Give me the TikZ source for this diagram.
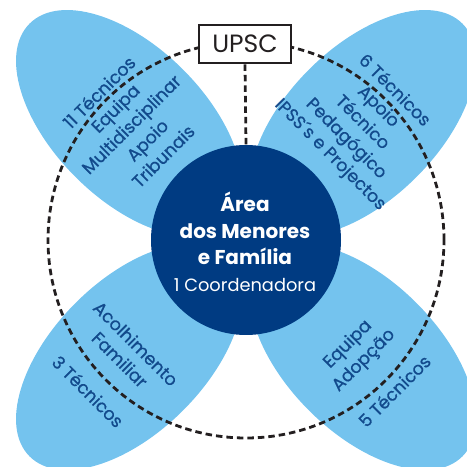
\documentclass[tikz,border=0pt]{standalone}
\usepackage{fontspec}
\setmainfont{Poppins}
\newfontfamily\petalfont{Poppins}[FakeBold=0.7]
\usetikzlibrary{shapes.geometric}
\definecolor{petal}{HTML}{74C3EE}
\definecolor{core}{HTML}{003B82}
\definecolor{petaltext}{HTML}{124A8C}
\definecolor{ink}{HTML}{231F20}
\tikzset{
  petalshape/.style={ellipse, fill=petal, inner sep=0pt, minimum width=282pt, minimum height=152pt},
  petallabel/.style={text=petaltext, align=center, font=\petalfont\fontsize{17.5}{22.6}\selectfont, inner sep=0pt},
  dashline/.style={draw=ink, line width=2.8pt, dash pattern=on 6.5pt off 4pt},
}
\begin{document}
\begin{tikzpicture}[x=1pt,y=1pt]
\useasboundingbox (0,0) rectangle (467,467);
\clip (0,0) rectangle (467,467);
\coordinate (m) at (246,227);
% petals
\node[petalshape, rotate=-45] (ul) at (129.3,343.7) {};
\node[petalshape, rotate=45] (ur) at (362.7,343.7) {};
\node[petalshape, rotate=45] (bl) at (129.3,110.3) {};
\node[petalshape, rotate=-45] (br) at (362.7,110.3) {};
% dashed ring
\node[circle, dashline, inner sep=0pt, minimum size=396pt] (ring) at (m) {};
% core circle
\node[circle, fill=core, inner sep=0pt, minimum size=190pt] (corec) at (m) {};
% UPSC box
\node[draw=ink, line width=2.6pt, fill=white, minimum width=92pt, minimum height=38pt, inner sep=0pt,
      font=\fontsize{25}{30}\selectfont, text=ink] (upsc) at (245,423) {UPSC};
\draw[dashline] (upsc.south) -- (corec.north);
% petal texts
\node[petallabel, rotate=45] (tul) at (131,343) {11 Técnicos\\Equipa\\Multidisciplinar\\Apoio\\Tribunais};
\node[petallabel, rotate=-45] (tur) at (362,344) {6 Técnicos\\Apoio\\Técnico\\Pedagógico\\IPSS´s e Projectos};
\node[petallabel, rotate=-45] (tbl) at (112,99.5) {Acolhimento\\Familiar\\\mbox{}\\3 Técnicos};
\node[petallabel, rotate=45] (tbr) at (370.5,100) {Equipa\\Adopção\\\mbox{}\\5 Técnicos};
% core text
\node[text=white, align=center, inner sep=0pt, font=\fontsize{20}{26.5}\selectfont\bfseries] (tcore) at (245,225)
  {Área\\dos Menores\\e Família\\
   {\fontsize{17.8}{26.5}\selectfont\mdseries 1 Coordenadora}};
\end{tikzpicture}
\end{document}
